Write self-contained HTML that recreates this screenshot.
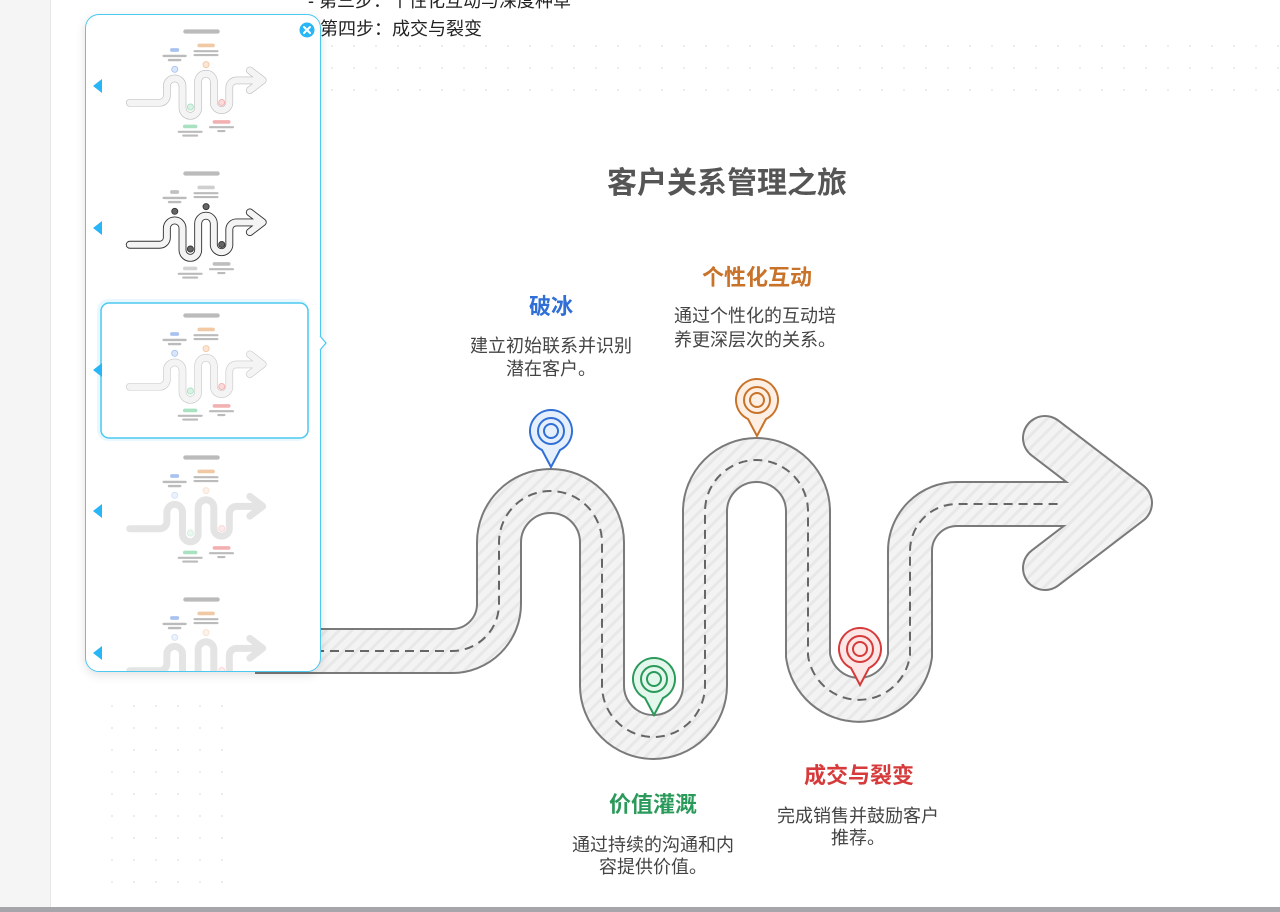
<!DOCTYPE html>
<html><head><meta charset="utf-8">
<style>
html,body{margin:0;padding:0;width:1280px;height:912px;overflow:hidden;background:#fff;font-family:"Liberation Sans","Noto Sans CJK SC",sans-serif;}
.left{position:absolute;left:0;top:0;width:50px;height:912px;background:#f5f5f6;border-right:1px solid #e6e6e6;}
.bottom{position:absolute;left:0;top:907px;width:1280px;height:5px;background:#a5a5aa;}
.txt{position:absolute;color:#222;font-size:18px;white-space:nowrap;}
.panel{position:absolute;left:85px;top:14px;width:234px;height:656px;border:1.5px solid #4cc9f0;border-radius:14px;background:#fff;box-shadow:0 3px 10px rgba(0,0,0,0.12);overflow:hidden;}
</style></head><body>
<div class="left"></div>
<svg width="1280" height="912" style="position:absolute;left:0;top:0">
<defs>
<pattern id="dots" width="22" height="22" patternUnits="userSpaceOnUse"><circle cx="2" cy="2" r="1" fill="#e6e6ea"/></pattern>
<pattern id="hatch" width="9" height="9" patternUnits="userSpaceOnUse" patternTransform="rotate(45)"><rect width="9" height="9" fill="#f3f3f3"/><rect width="3" height="9" fill="#e8e8e8"/></pattern>
</defs>
<rect x="328" y="36" width="952" height="70" fill="url(#dots)"/>
<rect x="108" y="690" width="122" height="212" fill="url(#dots)"/>
<g id="road">
<path d="M 255 651 H 452 A 47 47 0 0 0 499 604 V 542.5 A 51.5 51.5 0 0 1 602 542.5 V 685.5 A 51.5 51.5 0 0 0 705 685.5 V 511.5 A 51.5 51.5 0 0 1 808 511.5 V 655.5 A 51.5 51.5 0 0 0 910 655.5 V 551 A 47 47 0 0 1 957 504 H 1100" fill="none" stroke="#7a7a7a" stroke-width="46"/>
<path d="M 1045 438 L 1130 503 L 1045 568" fill="none" stroke="#7a7a7a" stroke-width="46" stroke-linejoin="round" stroke-linecap="round"/>
<path d="M 255 651 H 452 A 47 47 0 0 0 499 604 V 542.5 A 51.5 51.5 0 0 1 602 542.5 V 685.5 A 51.5 51.5 0 0 0 705 685.5 V 511.5 A 51.5 51.5 0 0 1 808 511.5 V 655.5 A 51.5 51.5 0 0 0 910 655.5 V 551 A 47 47 0 0 1 957 504 H 1100" fill="none" stroke="url(#hatch)" stroke-width="42"/>
<path d="M 1045 438 L 1130 503 L 1045 568" fill="none" stroke="url(#hatch)" stroke-width="42" stroke-linejoin="round" stroke-linecap="round"/>
<path d="M 255 651 H 452 A 47 47 0 0 0 499 604 V 542.5 A 51.5 51.5 0 0 1 602 542.5 V 685.5 A 51.5 51.5 0 0 0 705 685.5 V 511.5 A 51.5 51.5 0 0 1 808 511.5 V 655.5 A 51.5 51.5 0 0 0 910 655.5 V 551 A 47 47 0 0 1 957 504 H 1060" fill="none" stroke="#666" stroke-width="2" stroke-dasharray="9 6"/>
</g>
<g stroke-width="2">
<g transform="translate(551,431)"><path d="M -9 19 A 21 21 0 1 1 9 19 L 0 36 Z" fill="#e6effc" stroke="#2f6fd6"/><circle r="13" fill="none" stroke="#2f6fd6"/><circle r="7" fill="none" stroke="#2f6fd6"/></g>
<g transform="translate(757,400)"><path d="M -9 19 A 21 21 0 1 1 9 19 L 0 36 Z" fill="#fdefe3" stroke="#c9732a"/><circle r="13" fill="none" stroke="#c9732a"/><circle r="7" fill="none" stroke="#c9732a"/></g>
<g transform="translate(654,679)"><path d="M -9 19 A 21 21 0 1 1 9 19 L 0 36 Z" fill="#e3f7ec" stroke="#2a9a5a"/><circle r="13" fill="none" stroke="#2a9a5a"/><circle r="7" fill="none" stroke="#2a9a5a"/></g>
<g transform="translate(860,649)"><path d="M -9 19 A 21 21 0 1 1 9 19 L 0 36 Z" fill="#fde6e6" stroke="#d63a3a"/><circle r="13" fill="none" stroke="#d63a3a"/><circle r="7" fill="none" stroke="#d63a3a"/></g>
</g>
<g font-family="Liberation Sans, Noto Sans CJK SC, sans-serif" text-anchor="middle">
<text x="727" y="193" font-size="30" font-weight="bold" fill="#555">客户关系管理之旅</text>
<text x="551" y="314" font-size="22" font-weight="bold" fill="#2f6fd6">破冰</text>
<text x="551" y="352" font-size="18" fill="#444">建立初始联系并识别</text>
<text x="551" y="375" font-size="18" fill="#444">潜在客户。</text>
<text x="757" y="285" font-size="22" font-weight="bold" fill="#c9732a">个性化互动</text>
<text x="674" y="322" font-size="18" fill="#444" text-anchor="start">通过个性化的互动培</text>
<text x="674" y="346" font-size="18" fill="#444" text-anchor="start">养更深层次的关系。</text>
<text x="653" y="812" font-size="22" font-weight="bold" fill="#2a9a5a">价值灌溉</text>
<text x="653" y="851" font-size="18" fill="#444">通过持续的沟通和内</text>
<text x="653" y="873" font-size="18" fill="#444">容提供价值。</text>
<text x="859" y="783" font-size="22" font-weight="bold" fill="#d63a3a">成交与裂变</text>
<text x="858" y="822" font-size="18" fill="#444">完成销售并鼓励客户</text>
<text x="858" y="844" font-size="18" fill="#444">推荐。</text>
</g>
</svg>
<div class="txt" style="left:308px;top:-13px;">- 第三步：个性化互动与深度种草</div>
<div class="txt" style="left:320px;top:15px;">第四步：成交与裂变</div>
<div class="bottom"></div>
<div class="panel">
<svg width="234" height="656" style="position:absolute;left:0;top:0">
<defs>
<g id="mini">
<rect x="607" y="168" width="240" height="28" rx="14" fill="#bbb"/>
<rect x="520" y="292" width="60" height="24" rx="12" fill="#a9c3f0"/>
<rect x="470" y="335" width="160" height="16" rx="8" fill="#bbb"/>
<rect x="505" y="362" width="90" height="16" rx="8" fill="#bbb"/>
<rect x="700" y="262" width="115" height="24" rx="12" fill="#f2c9a5"/>
<rect x="674" y="305" width="165" height="14" rx="7" fill="#bbb"/>
<rect x="674" y="330" width="165" height="14" rx="7" fill="#bbb"/>
<rect x="605" y="795" width="95" height="24" rx="12" fill="#a9e2c1"/>
<rect x="570" y="835" width="165" height="14" rx="7" fill="#bbb"/>
<rect x="600" y="860" width="105" height="14" rx="7" fill="#bbb"/>
<rect x="800" y="765" width="118" height="24" rx="12" fill="#f3b0b0"/>
<rect x="776" y="805" width="165" height="14" rx="7" fill="#bbb"/>
<rect x="830" y="830" width="55" height="14" rx="7" fill="#bbb"/>
</g>
<path id="mroad" d="M 255 651 H 452 A 47 47 0 0 0 499 604 V 542.5 A 51.5 51.5 0 0 1 602 542.5 V 685.5 A 51.5 51.5 0 0 0 705 685.5 V 511.5 A 51.5 51.5 0 0 1 808 511.5 V 655.5 A 51.5 51.5 0 0 0 910 655.5 V 551 A 47 47 0 0 1 957 504 H 1100 M 1045 438 L 1130 503 L 1045 568" fill="none" stroke-linejoin="round" stroke-linecap="round"/>
<g id="mpins">
<circle cx="551" cy="431" r="20" fill="#dbe6fb" stroke="#a9c3f0" stroke-width="6"/>
<circle cx="757" cy="400" r="20" fill="#fbe6d6" stroke="#f2c9a5" stroke-width="6"/>
<circle cx="654" cy="679" r="20" fill="#d8f3e3" stroke="#a9e2c1" stroke-width="6"/>
<circle cx="860" cy="649" r="20" fill="#fbdada" stroke="#f3b0b0" stroke-width="6"/>
</g>
</defs>
<g transform="translate(5,-11.2) scale(0.152)">
<use href="#mini"/><use href="#mroad" stroke="#bbb" stroke-width="50"/><use href="#mroad" stroke="#f4f4f4" stroke-width="42"/><use href="#mpins"/>
</g>
<g transform="translate(5,130.8) scale(0.152)">
<use href="#mini" style="filter:grayscale(1)"/><use href="#mroad" stroke="#333" stroke-width="52"/><use href="#mroad" stroke="#f4f4f4" stroke-width="40"/>
<circle cx="551" cy="431" r="20" fill="#666" stroke="#333" stroke-width="6"/><circle cx="757" cy="400" r="20" fill="#666" stroke="#333" stroke-width="6"/><circle cx="654" cy="679" r="20" fill="#666" stroke="#333" stroke-width="6"/><circle cx="860" cy="649" r="20" fill="#666" stroke="#333" stroke-width="6"/>
</g>
<rect x="11" y="284" width="212" height="142" rx="11" fill="#e9f8ff"/>
<rect x="15" y="288" width="207" height="135" rx="8" fill="#fff" stroke="#4cc9f0" stroke-width="1.5"/>
<g transform="translate(5,272.8) scale(0.152)">
<use href="#mini"/><use href="#mroad" stroke="#c8c8c8" stroke-width="50"/><use href="#mroad" stroke="#f4f4f4" stroke-width="42"/><use href="#mpins"/>
</g>
<g transform="translate(5,414.8) scale(0.152)">
<use href="#mini"/><use href="#mroad" stroke="#e4e4e4" stroke-width="46"/><use href="#mpins" opacity="0.5"/>
</g>
<g transform="translate(5,556.8) scale(0.152)">
<use href="#mini"/><use href="#mroad" stroke="#e4e4e4" stroke-width="46"/><use href="#mpins" opacity="0.5"/>
</g>
<g fill="#29b6f6">
<path d="M 7 71 L 16 64 L 16 78 Z"/><path d="M 7 213 L 16 206 L 16 220 Z"/><path d="M 7 355 L 16 348 L 16 362 Z"/><path d="M 7 496 L 16 489 L 16 503 Z"/><path d="M 7 638 L 16 631 L 16 645 Z"/>
</g>
<circle cx="221" cy="15" r="7.5" fill="#29b6f6"/>
<path d="M 218 12 L 224 18 M 224 12 L 218 18" stroke="#fff" stroke-width="2" stroke-linecap="round"/>
</svg>
</div>
<svg width="10" height="16" style="position:absolute;left:319px;top:335px"><path d="M 1 1 L 7 8 L 1 15" fill="#fff" stroke="#4cc9f0" stroke-width="1.2"/></svg>
</body></html>
